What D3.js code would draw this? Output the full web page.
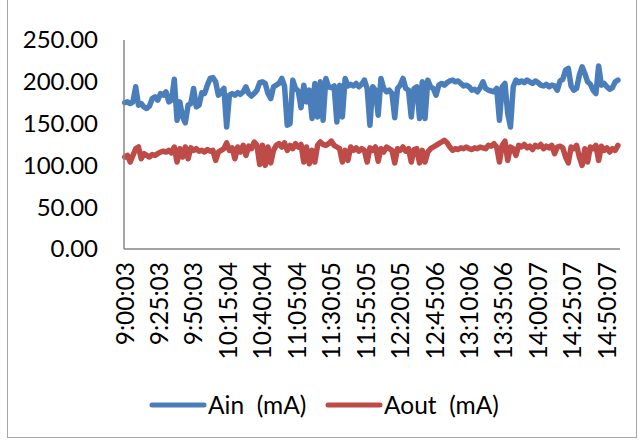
<!DOCTYPE html>
<html>
<head>
<meta charset="utf-8">
<script src="https://cdn.jsdelivr.net/npm/d3@7"></script>
<style>
  body { margin: 0; background: #fff; }
  text { font-family: Lato, "Open Sans", sans-serif; fill: #000; }
</style>
</head>
<body>
<div id="chart"></div>
<script>
// tick labels on the category axis (one every 25 samples)
const timeLabels = ['9:00:03', '9:25:03', '9:50:03', '10:15:04', '10:40:04', '11:05:04', '11:30:05',
  '11:55:05', '12:20:05', '12:45:06', '13:10:06', '13:35:06', '14:00:07', '14:25:07', '14:50:07'];
const yTicks = [0, 50, 100, 150, 200, 250];

// readings, one every 2 minutes from 9:00
const ain = [
  175, 176, 174, 176, 194, 172, 174, 170, 168, 171,
  180, 182, 178, 186, 184, 188, 176, 178, 203, 154,
  176, 158, 151, 172, 174, 192, 170, 172, 187, 186,
  196, 204, 205, 200, 184, 188, 192, 146, 184, 186,
  184, 187, 185, 188, 194, 186, 183, 186, 190, 199,
  200, 198, 186, 180, 194, 196, 198, 204, 195, 148,
  150, 202, 192, 189, 169, 196, 176, 190, 156, 198,
  158, 200, 154, 204, 194, 193, 195, 152, 196, 158,
  204, 195, 197, 195, 198, 194, 197, 202, 192, 148,
  194, 190, 160, 204, 192, 188, 190, 186, 157, 192,
  196, 204, 192, 190, 158, 192, 194, 156, 200, 156,
  202, 194, 192, 184, 196, 198, 196, 199, 201, 202,
  200, 201, 198, 195, 196, 194, 190, 191, 188, 193,
  200, 192, 190, 189, 188, 192, 154, 194, 198, 162,
  146, 194, 202, 199, 201, 199, 202, 200, 198, 201,
  199, 196, 195, 197, 194, 196, 195, 190, 201, 203,
  214, 216, 195, 190, 192, 208, 218, 210, 200, 197,
  190, 186, 219, 196, 198, 194, 191, 193, 200, 202
];
const aout = [
  110, 112, 104, 112, 120, 122, 108, 114, 112, 110,
  113, 112, 114, 116, 117, 116, 118, 115, 122, 104,
  120, 110, 122, 108, 121, 118, 120, 117, 118, 116,
  119, 117, 118, 106, 116, 118, 120, 127, 118, 121,
  108, 122, 116, 124, 112, 123, 120, 128, 124, 101,
  124, 100, 122, 103, 118, 124, 126, 122, 127, 118,
  124, 120, 126, 122, 125, 104, 122, 102, 118, 104,
  124, 128, 125, 124, 126, 129, 124, 122, 120, 104,
  118, 106, 122, 118, 121, 117, 120, 118, 104, 121,
  118, 122, 105, 120, 116, 122, 120, 118, 103, 120,
  118, 122, 117, 120, 104, 119, 120, 103, 118, 104,
  116, 120, 122, 124, 126, 128, 130, 127, 122, 118,
  120, 119, 121, 120, 122, 120, 119, 121, 120, 122,
  121, 120, 124, 123, 126, 122, 104, 124, 129, 106,
  122, 120, 112, 124, 122, 125, 121, 123, 119, 124,
  122, 125, 120, 123, 121, 124, 114, 122, 123, 121,
  110, 103, 122, 120, 124, 110, 100, 120, 104, 122,
  120, 124, 106, 123, 118, 121, 116, 120, 118, 124
];

const seriesInfo = [
  {name: 'Ain  (mA)', values: ain, color: '#4a7ebb'},
  {name: 'Aout  (mA)', values: aout, color: '#be4b48'}
];

const W = 644, H = 441;
const svg = d3.select('#chart').append('svg')
  .attr('width', W).attr('height', H);

// chart area frame
svg.append('rect')
  .attr('x', 7.5).attr('y', -10)
  .attr('width', 629).attr('height', 447.5)
  .attr('fill', 'none').attr('stroke', '#a6a6a6');

// scales: minutes since 9:00:03 on x
const x = d3.scaleLinear().domain([-0.5, 359.5]).range([124, 620]);
const y = d3.scaleLinear().domain([0, 250]).range([249, 40]);

// y labels
svg.append('g').selectAll('text')
  .data(yTicks)
  .enter().append('text')
  .attr('x', 98)
  .attr('y', d => y(d))
  .attr('dy', '0.35em')
  .attr('text-anchor', 'end')
  .style('font-size', '24px')
  .text(d => d.toFixed(2));

// x labels, rotated
svg.append('g').selectAll('text')
  .data(timeLabels)
  .enter().append('text')
  .attr('transform', (d, i) => `translate(${x(i * 25)},262) rotate(-90)`)
  .attr('dy', '0.36em')
  .attr('text-anchor', 'end')
  .style('font-size', '24.5px')
  .text(d => d);

// lines
const line = d3.line()
  .x((d, i) => x(i * 2))
  .y(d => y(d))
  .curve(d3.curveLinear);

svg.append('g').selectAll('path')
  .data(seriesInfo)
  .enter().append('path')
  .attr('d', d => line(d.values))
  .attr('fill', 'none')
  .attr('stroke', d => d.color)
  .attr('stroke-width', 5.5)
  .attr('stroke-linejoin', 'round')
  .attr('stroke-linecap', 'round');

// axes lines
svg.append('line')
  .attr('x1', 124).attr('x2', 124)
  .attr('y1', y(250)).attr('y2', y(0))
  .attr('stroke', '#868686').attr('stroke-width', 1.5);
svg.append('line')
  .attr('x1', 124).attr('x2', 620)
  .attr('y1', y(0)).attr('y2', y(0))
  .attr('stroke', '#868686').attr('stroke-width', 1.5);

// legend
const legendPos = [152, 328];
const lg = svg.append('g').selectAll('g')
  .data(seriesInfo)
  .enter().append('g')
  .attr('transform', (d, i) => `translate(${legendPos[i]},405)`);
lg.append('line')
  .attr('x1', 0).attr('x2', 52)
  .attr('stroke', d => d.color)
  .attr('stroke-width', 5)
  .attr('stroke-linecap', 'round');
lg.append('text')
  .attr('x', 56)
  .attr('dy', '0.35em')
  .style('font-size', '24.5px')
  .style('white-space', 'pre')
  .text(d => d.name);
</script>
</body>
</html>
